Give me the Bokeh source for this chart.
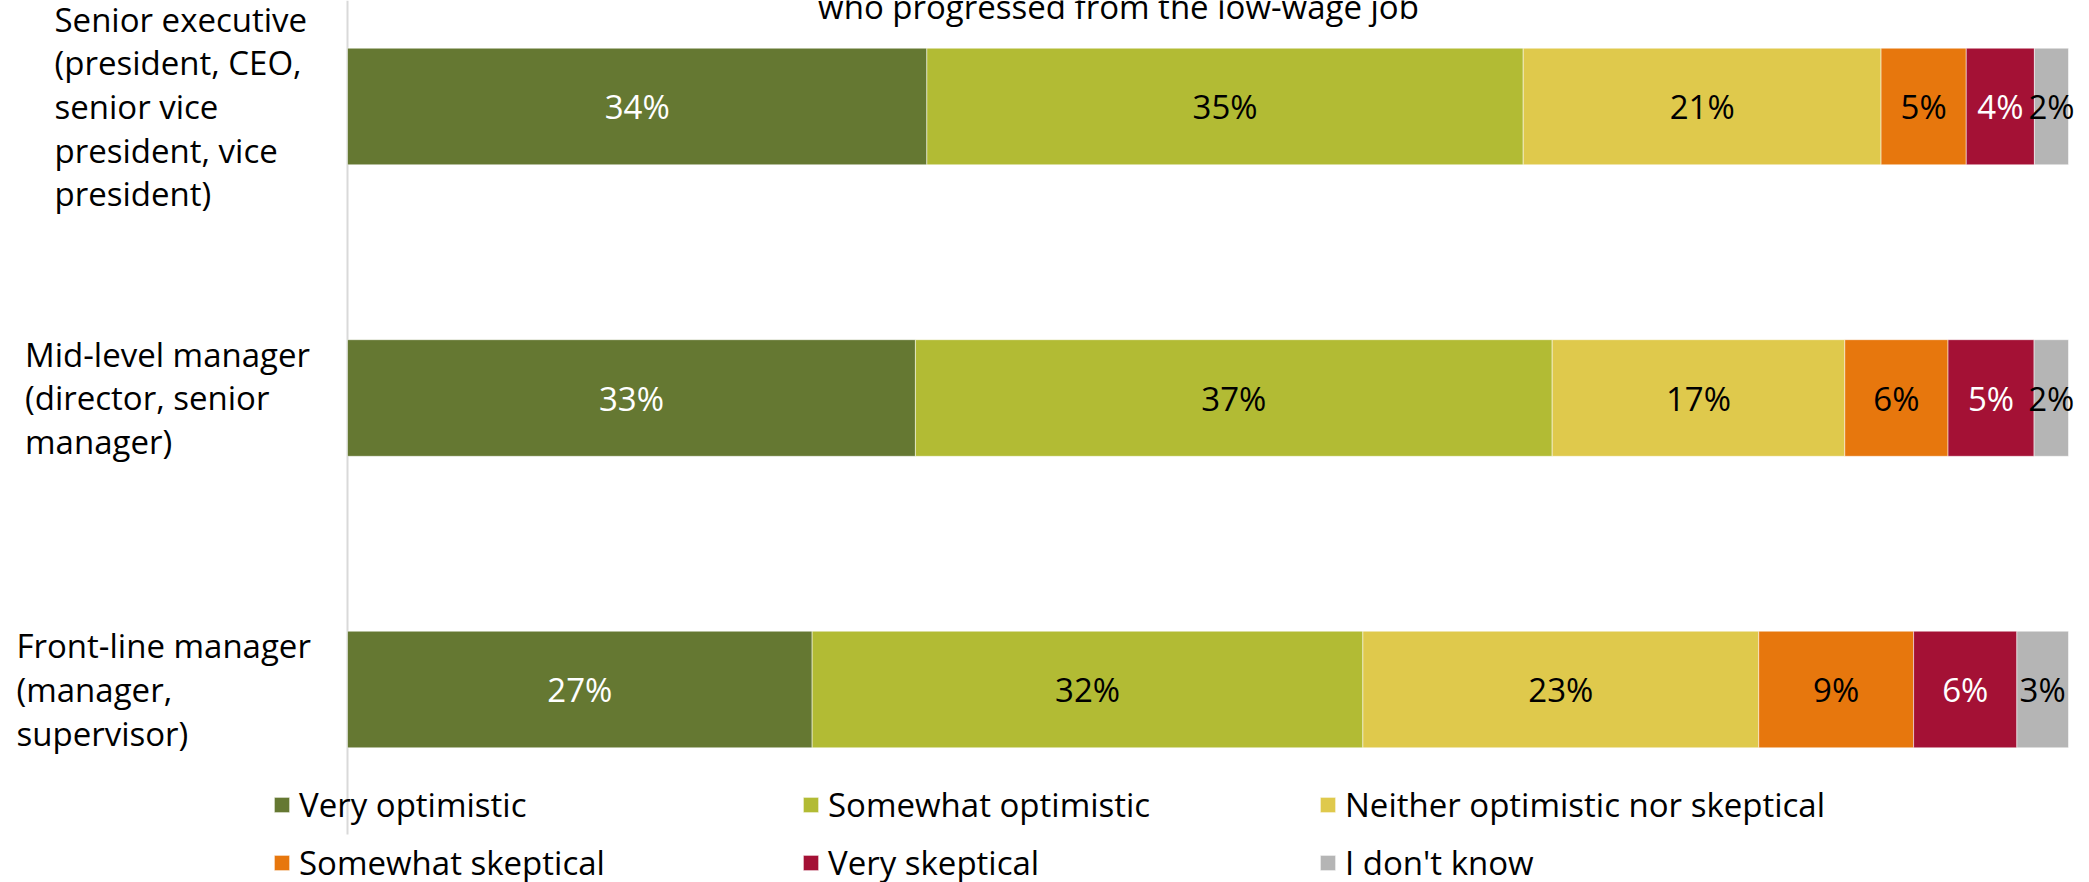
from bokeh.plotting import figure
from bokeh.models import ColumnDataSource, Range1d, Legend, LegendItem
from bokeh.core.properties import value
from bokeh.embed import file_html
from bokeh.resources import INLINE

# ---------------- data ----------------
categories = [
    "Front-line manager\n(manager,\nsupervisor)",
    "Mid-level manager\n(director, senior\nmanager)",
    "Senior executive\n(president, CEO,\nsenior vice\npresident, vice\npresident)",
]
series_names = [
    "Very optimistic",
    "Somewhat optimistic",
    "Neither optimistic nor skeptical",
    "Somewhat skeptical",
    "Very skeptical",
    "I don't know",
]
very_optimistic = [27, 33, 34]
somewhat_optimistic = [32, 37, 35]
neither = [23, 17, 21]
somewhat_skeptical = [9, 6, 5]
very_skeptical = [6, 5, 4]
dont_know = [3, 2, 2]
title_text = "who progressed from the low-wage job"

series_values = [very_optimistic, somewhat_optimistic, neither,
                 somewhat_skeptical, very_skeptical, dont_know]

# ---------------- style ----------------
colors = ["#657832", "#b2bb34", "#dfc94c", "#e7770d", "#a41135", "#b5b5b5"]
label_colors = ["#ffffff", "#000000", "#000000", "#000000", "#ffffff", "#000000"]
FONT = "Open Sans"
FS = "33px"

# ---------------- layout (pixels) ----------------
W, H = 2089, 882
X0 = 347            # x pixel of 0 %
PX_PER_PCT = 17.21
Y_FRONT = 689       # y pixel of first row centre
ROW_PX = 291.5


def fx(px):
    return (px - X0) / PX_PER_PCT


def fy(py):
    return (Y_FRONT - py) / ROW_PX


p = figure(width=W, height=H, output_backend="svg", toolbar_location=None,
           x_range=Range1d(fx(0), fx(W)), y_range=Range1d(fy(H), fy(0)),
           min_border_left=0, min_border_right=0, min_border_top=0,
           min_border_bottom=0)
p.xaxis.visible = False
p.yaxis.visible = False
p.xgrid.visible = False
p.ygrid.visible = False
p.outline_line_color = None
p.background_fill_color = "white"
p.border_fill_color = "white"

# vertical category axis line
p.segment(x0=[0], y0=[fy(834)], x1=[0], y1=[fy(0)], line_color="#d9d9d9",
          line_width=2)

rows = list(range(len(categories)))
totals = [sum(s[i] for s in series_values) for i in rows]

renderers = []
cum = [0.0] * len(rows)
for k, vals in enumerate(series_values):
    share = [100.0 * vals[i] / totals[i] for i in rows]
    left = cum[:]
    right = [left[i] + share[i] for i in rows]
    src = ColumnDataSource(dict(
        y=rows, left=left, right=right,
        mid=[(left[i] + right[i]) / 2 for i in rows],
        txt=[f"{v}%" for v in vals],
    ))
    r = p.hbar(y="y", left="left", right="right", height=0.4, source=src,
               fill_color=colors[k], line_color="white", line_alpha=0.5,
               line_width=1)
    p.text(x="mid", y="y", text="txt", source=src, text_align="center",
           text_baseline="middle", text_color=label_colors[k],
           text_font=value(FONT), text_font_size=FS)
    renderers.append(r)
    cum = right

# category labels (left-aligned blocks)
label_left_px = [16, 24.5, 54]
p.text(x=[fx(v) for v in label_left_px], y=rows, text=categories,
       text_align="left", text_baseline="middle", text_color="#000000",
       text_font=value(FONT), text_font_size=FS, text_line_height=0.97)

# (partially cut, as in the original) title line at the very top
p.text(x=[fx(1118)], y=[fy(6)], text=[title_text], text_align="center",
       text_baseline="alphabetic", text_color="#000000",
       text_font=value(FONT), text_font_size=FS)

# legend: 2 rows x 3 columns
col_px = [272, 801, 1318]
row_py = [805, 863]
for n, k in enumerate(range(len(series_names))):
    cx = col_px[n % 3]
    cy = row_py[n // 3]
    lg = Legend(items=[LegendItem(label=series_names[k], renderers=[renderers[k]])],
                location=(cx, H - cy - 22), orientation="vertical",
                glyph_width=19, glyph_height=19, label_standoff=8,
                label_text_font=FONT, label_text_font_size=FS,
                label_text_color="#000000", padding=0, margin=0, spacing=0,
                border_line_alpha=0, background_fill_alpha=0,
                label_height=19)
    p.add_layout(lg)

open("out.html", "w").write(file_html(p, INLINE))
